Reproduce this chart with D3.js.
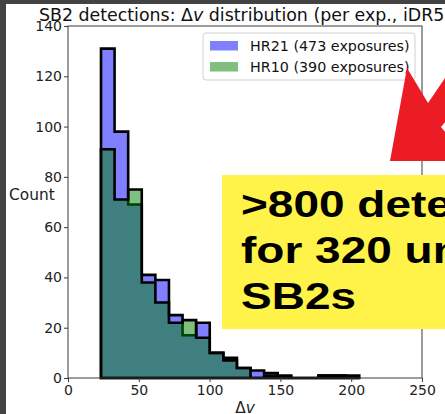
<!DOCTYPE html>
<html><head><meta charset="utf-8">
<script src="https://cdn.jsdelivr.net/npm/d3@7"></script>
<style>body{margin:0;background:#fff;overflow:hidden} svg{display:block}</style>
</head><body><svg id="c" width="445" height="414"></svg>
<script>
const binEdges = [23.3, 32.9, 42.5, 52.1, 61.7, 71.3, 80.9, 90.5, 100.1, 109.7, 119.3, 128.9, 138.5, 148.1, 157.7, 167.3, 176.9, 186.5, 196.1, 205.7];
const hr21Counts = [131, 98, 69, 41, 39, 25, 17, 22, 10, 8, 4, 3, 2, 1, 0, 0, 1, 1, 1];
const hr10Counts = [91, 71, 75, 38, 30, 22, 23, 16, 10, 7, 4, 0, 1, 0, 0, 0, 1, 1, 0];
const seriesNames = ["HR21 (473 exposures)", "HR10 (390 exposures)"];
const seriesColors = ["#0000ff", "#008000"];
const xTicks = [0, 50, 100, 150, 200, 250];
const yTicks = [0, 20, 40, 60, 80, 100, 120, 140];
const calloutLines = [">800 detections", "for 320 unique", "SB2s"];

const svg = d3.select("#c");
const W = 445, H = 414;
svg.append("rect").attr("width", W).attr("height", H).attr("fill", "#ffffff");

const x = d3.scaleLinear().domain([0, 250]).range([68, 422]);
const y = d3.scaleLinear().domain([0, 140]).range([378, 26]);
const font = "'DejaVu Sans', sans-serif";

// histograms
function stepPath(counts) {
  const p = d3.path();
  p.moveTo(x(binEdges[0]), y(0));
  counts.forEach((c, i) => {
    p.lineTo(x(binEdges[i]), y(c));
    p.lineTo(x(binEdges[i + 1]), y(c));
  });
  p.lineTo(x(binEdges[binEdges.length - 1]), y(0));
  p.closePath();
  return p.toString();
}
[hr21Counts, hr10Counts].forEach((counts, i) => {
  svg.append("path").attr("d", stepPath(counts))
    .attr("fill", seriesColors[i]).attr("fill-opacity", 0.5)
    .attr("stroke", "#000").attr("stroke-width", 2.6).attr("stroke-linejoin", "miter");
});

// axes frame
const axisColor = "#3a3a3a";
svg.append("rect").attr("x", x(0)).attr("y", y(140)).attr("width", x(250) - x(0)).attr("height", y(0) - y(140))
  .attr("fill", "none").attr("stroke", axisColor).attr("stroke-width", 1);

const xAxis = svg.append("g").attr("transform", `translate(0,${y(0)})`)
  .call(d3.axisBottom(x).tickValues(xTicks).tickSize(4).tickPadding(3).tickFormat(d3.format("d")));
const yAxis = svg.append("g").attr("transform", `translate(${x(0)},0)`)
  .call(d3.axisLeft(y).tickValues(yTicks).tickSize(4).tickPadding(2).tickFormat(d3.format("d")));
[xAxis, yAxis].forEach(g => {
  g.select(".domain").remove();
  g.selectAll("line").attr("stroke", axisColor);
  g.selectAll("text").attr("fill", "#222").style("font-family", font).style("font-size", "14px");
});

// labels
svg.append("text").attr("x", 9).attr("y", 200).attr("fill", "#222")
  .style("font-family", font).style("font-size", "15.4px").text("Count");
const xl = svg.append("text").attr("x", 245).attr("y", 413).attr("text-anchor", "middle").attr("fill", "#222")
  .style("font-family", font).style("font-size", "15.4px");
xl.append("tspan").text("Δ");
xl.append("tspan").style("font-style", "italic").text("v");

const tt = svg.append("text").attr("x", 245).attr("y", 21).attr("text-anchor", "middle").attr("fill", "#111")
  .style("font-family", font).style("font-size", "17.4px");
tt.append("tspan").text("SB2 detections: Δ");
tt.append("tspan").style("font-style", "italic").text("v");
tt.append("tspan").text(" distribution (per exp., iDR5)");

// legend
const lg = svg.append("g");
lg.append("rect").attr("x", 203).attr("y", 33).attr("width", 212).attr("height", 47).attr("rx", 3)
  .attr("fill", "#fff").attr("fill-opacity", 0.85).attr("stroke", "#d0d0d0").attr("stroke-width", 1);
seriesNames.forEach((name, i) => {
  const yy = 41 + i * 21;
  lg.append("rect").attr("x", 210).attr("y", yy).attr("width", 28).attr("height", 9.5)
    .attr("fill", seriesColors[i]).attr("fill-opacity", 0.5);
  lg.append("text").attr("x", 250).attr("y", yy + 10.3).attr("fill", "#111")
    .style("font-family", font).style("font-size", "14.3px").text(name);
});

// overlay: red arrow
svg.append("polygon")
  .attr("points", "407,68 428,103 447,75 447,120 441,127 447,134 447,161 390,161")
  .attr("fill", "#ec1c24");

// overlay: yellow callout
svg.append("rect").attr("x", 222).attr("y", 175).attr("width", 240).attr("height", 154).attr("fill", "#fff34a");
calloutLines.forEach((t, i) => {
  svg.append("text").attr("transform", `translate(241,${217 + i * 46}) scale(1,0.8)`).attr("fill", "#000")
    .style("font-family", "'Liberation Sans', Arial, sans-serif").style("font-weight", "bold")
    .style("font-size", "46px").text(t);
});

// slide border
svg.append("rect").attr("x", 0).attr("y", 0).attr("width", 6).attr("height", H).attr("fill", "#434343");
svg.append("rect").attr("x", 0).attr("y", 0).attr("width", W).attr("height", 4).attr("fill", "#434343");
</script></body></html>
